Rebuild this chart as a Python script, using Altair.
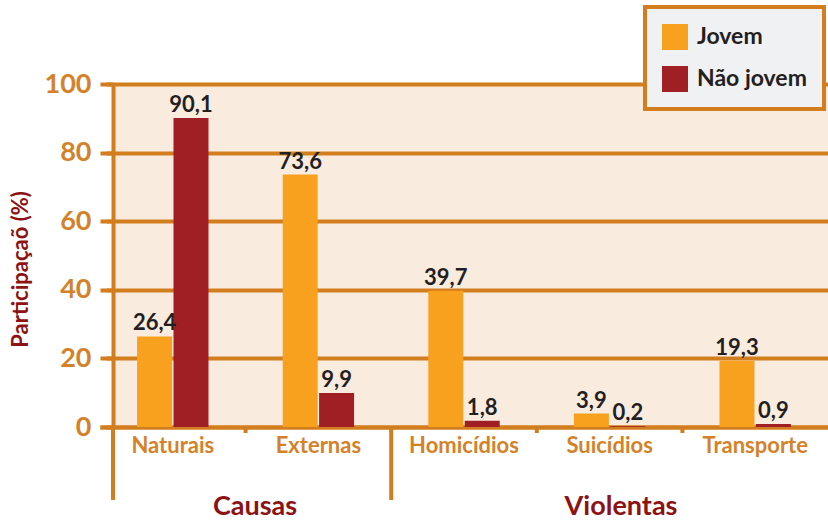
import altair as alt
import pandas as pd

categories = ["Naturais", "Externas", "Homicídios", "Suicídios", "Transporte"]
series = ["Jovem", "Não jovem"]
jovem = [26.4, 73.6, 39.7, 3.9, 19.3]
nao_jovem = [90.1, 9.9, 1.8, 0.2, 0.9]
group_labels = ["Causas", "Violentas"]
y_ticks = [0, 20, 40, 60, 80, 100]

rows = []
for c, a, b in zip(categories, jovem, nao_jovem):
    rows.append({"cat": c, "series": series[0], "value": a})
    rows.append({"cat": c, "series": series[1], "value": b})
df = pd.DataFrame(rows)

ORANGE = "#D27E1E"
LABEL_OR = "#D4822A"
BAR_OR = "#F8A11E"
BAR_RED = "#A01F24"
DARKRED = "#8C1214"
BG = "#FAEBDF"
TXT = "#231F20"
FONT = "Lato"

W, H = 715, 343

x_scale = alt.Scale(domain=categories, range=[-13, W], paddingInner=0, paddingOuter=0)
off_scale = alt.Scale(domain=series, paddingInner=0, paddingOuter=1)

x_enc = alt.X(
    "cat:N",
    scale=x_scale,
    axis=alt.Axis(
        title=None, labelAngle=0, ticks=False, domainColor=ORANGE, domainWidth=4,
        labelColor=LABEL_OR, labelFont=FONT, labelFontWeight="bold", labelFontSize=22,
        labelPadding=8,
    ),
)
y_enc = alt.Y(
    "value:Q",
    scale=alt.Scale(domain=[0, 100], nice=False),
    axis=alt.Axis(
        values=y_ticks, grid=True, gridColor=ORANGE, gridWidth=4,
        domainColor=ORANGE, domainWidth=4, tickColor=ORANGE, tickWidth=4, tickSize=7,
        labelColor=LABEL_OR, labelFont=FONT, labelFontWeight="bold", labelFontSize=27,
        labelPadding=15, title="Participaçaõ (%)", titleColor=DARKRED, titleFont=FONT,
        titleFontWeight="bold", titleFontSize=22, titleX=-93, titleY=185, titleAngle=270,
        titleAlign="center", titleBaseline="middle",
    ),
)

base = alt.Chart(df)

bars = base.mark_bar(width=35).encode(
    x=x_enc,
    xOffset=alt.XOffset("series:N", scale=off_scale),
    y=y_enc,
    color=alt.Color(
        "series:N",
        scale=alt.Scale(domain=series, range=[BAR_OR, BAR_RED]),
        legend=alt.Legend(
            title=None, orient="none", legendX=532, legendY=-77,
            symbolType="square", symbolSize=676, symbolStrokeWidth=0,
            labelFont=FONT, labelFontWeight="bold", labelFontSize=23, labelColor=TXT,
            labelOffset=9, rowPadding=16, padding=17,
            fillColor="#F0F1F3", strokeColor=ORANGE,
        ),
    ),
)

labels = base.transform_calculate(
    label="replace(format(datum.value, '.1f'), '.', ',')"
).mark_text(
    font=FONT, fontWeight="bold", fontSize=22, color=TXT, baseline="alphabetic", dy=-6
).encode(
    x=alt.X("cat:N", scale=x_scale),
    xOffset=alt.XOffset("series:N", scale=off_scale),
    y=alt.Y("value:Q"),
    text="label:N",
)

short_ticks = base.transform_filter(
    alt.FieldOneOfPredicate(field="cat", oneOf=["Externas", "Suicídios", "Transporte"])
).transform_filter(
    alt.datum.series == series[0]
).mark_rule(color=ORANGE, strokeWidth=4).encode(
    x=alt.X("cat:N", scale=x_scale, bandPosition=0),
    y=alt.value("height"),
    y2=alt.value(H + 6),
)

long_sep = base.transform_filter(
    alt.datum.cat == "Homicídios"
).transform_filter(
    alt.datum.series == series[0]
).mark_rule(color=ORANGE, strokeWidth=4).encode(
    x=alt.X("cat:N", scale=x_scale, bandPosition=0),
    y=alt.value("height"),
    y2=alt.value(416),
)

one = alt.Data(values=[{}])
left_ext = alt.Chart(one).mark_rule(color=ORANGE, strokeWidth=4).encode(
    x=alt.value(0), y=alt.value("height"), y2=alt.value(416)
)

group_pos = [142, 508]
group_texts = [
    alt.Chart(one).mark_text(
        text=g, font=FONT, fontWeight="bold", fontSize=27, color=DARKRED, baseline="middle"
    ).encode(x=alt.value(px), y=alt.value(423))
    for g, px in zip(group_labels, group_pos)
]

chart = alt.layer(bars, labels, short_ticks, long_sep, left_ext, *group_texts).properties(
    width=W, height=H,
    autosize=alt.AutoSizeParams(type="none"),
    padding={"left": 113, "top": 84, "right": 0, "bottom": 94},
).configure_view(
    fill=BG, strokeWidth=0
).configure_legend(
    strokeWidth=4
)

chart.save("out.html", embed_options={"renderer": "svg", "actions": False})
